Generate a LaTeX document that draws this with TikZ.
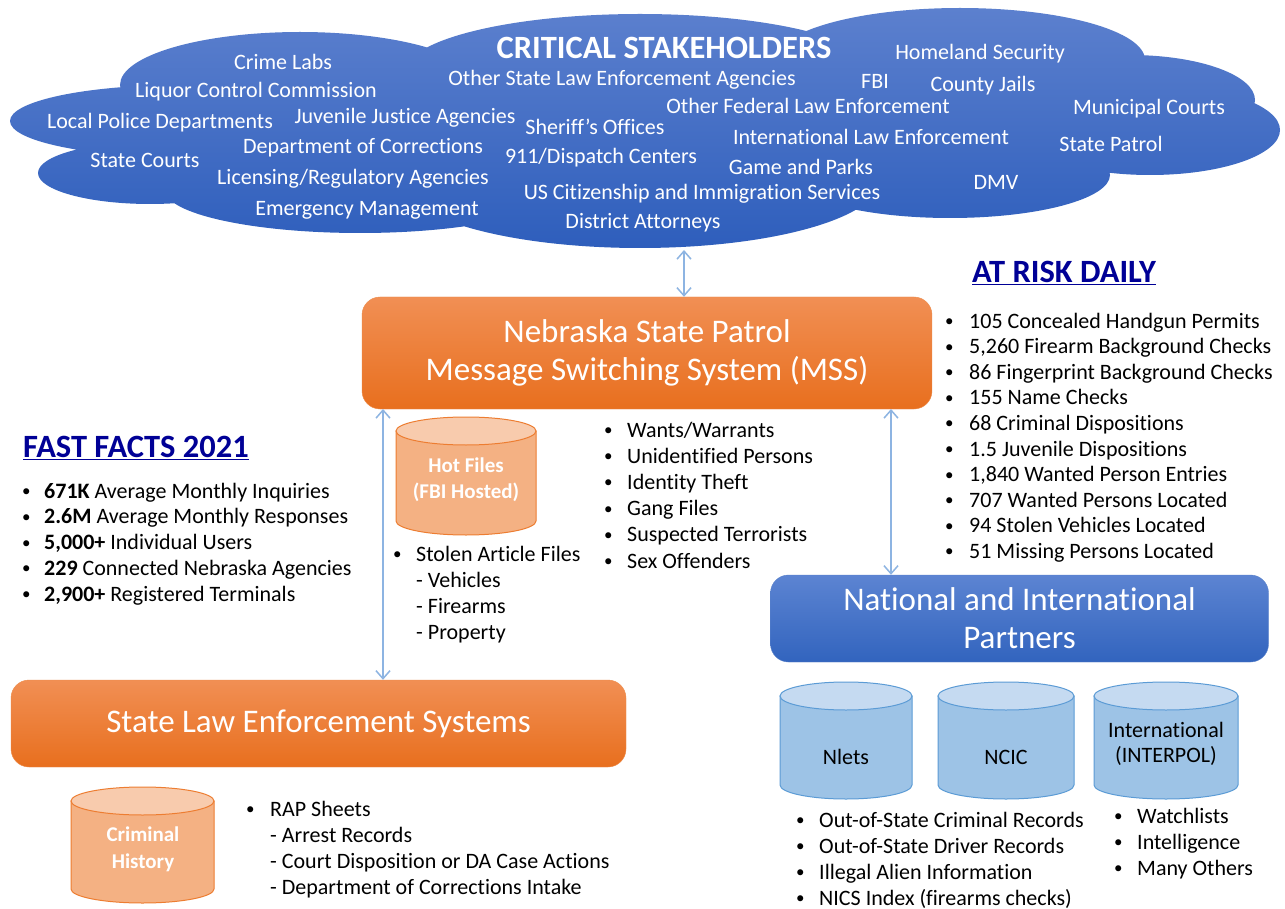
\documentclass[tikz,border=0pt]{standalone}
\usepackage{fontspec}
\setmainfont{Carlito}[Ligatures=NoCommon]
\usetikzlibrary{arrows.meta}

\definecolor{cloudtop}{RGB}{92,128,206}
\definecolor{cloudbot}{RGB}{46,94,188}
\definecolor{orangetop}{RGB}{241,143,84}
\definecolor{orangebot}{RGB}{232,111,30}
\definecolor{bluetop}{RGB}{92,132,210}
\definecolor{bluebot}{RGB}{50,100,190}
\definecolor{cylorange}{RGB}{244,177,131}
\definecolor{cylorangetop}{RGB}{248,203,173}
\definecolor{cylorangeline}{RGB}{237,125,49}
\definecolor{cylblue}{RGB}{157,195,230}
\definecolor{cylbluetop}{RGB}{197,218,241}
\definecolor{cylblueline}{RGB}{91,155,213}
\definecolor{arrowblue}{RGB}{141,180,226}
\definecolor{headblue}{RGB}{0,0,150}

% Zylinder: links, oben, rechts, unten, Farbe
\newcommand{\dbcyl}[5]{%
	\pgfmathsetmacro{\cylx}{(#1+#3)/2}
	\pgfmathsetmacro{\cylr}{(#3-#1)/2}
	\filldraw[fill=#5, draw=#5line, line width=1pt] (#1,#2+14) -- (#1,#4-14)
	arc[start angle=180, end angle=0, x radius=\cylr, y radius=14] -- (#3,#2+14) -- cycle;
	\filldraw[fill=#5top, draw=#5line, line width=1pt] (\cylx,#2+14) ellipse[x radius=\cylr, y radius=14];
}

\tikzset{
	cloudtext/.style={text=white, inner sep=0pt, text height=14pt, text depth=0pt, font=\fontsize{22}{26}\selectfont},
	sysbox/.style={rounded corners=18pt, text=white, align=center, inner sep=0pt, font=\fontsize{33}{38}\selectfont},
	orangebox/.style={sysbox, top color=orangetop, bottom color=orangebot, draw=orangebot!80!white},
	bluebox/.style={sysbox, top color=bluetop, bottom color=bluebot, draw=bluebot!80!white},
	item/.style={anchor=west, inner sep=0pt, text height=14pt, text depth=0pt, font=\fontsize{22}{26}\selectfont},
	bullet/.style={item, font=\fontsize{17}{26}\selectfont, text height=11pt},
	heading/.style={inner sep=0pt, text=headblue, font=\bfseries\fontsize{32.5}{36}\selectfont},
	cyltext/.style={align=center, inner sep=0pt, font=\fontsize{22}{26}\selectfont},
	link/.style={{Straight Barb[length=8pt,width=14pt]}-{Straight Barb[length=8pt,width=14pt]}, draw=arrowblue, line width=1.5pt}
}

\begin{document}
\begin{tikzpicture}[x=1pt, y=-1pt]
	\useasboundingbox[fill=white] (0,0) rectangle (1285,909);
	% Wolke
	\shade[top color=cloudtop, bottom color=cloudbot]
		(150,173) ellipse[x radius=112, y radius=31]
		(180,121) ellipse[x radius=170, y radius=36]
		(300,85) ellipse[x radius=180, y radius=53]
		(380,140) ellipse[x radius=180, y radius=52]
		(640,72) ellipse[x radius=235, y radius=58]
		(960,60) ellipse[x radius=185, y radius=52]
		(1130,100) ellipse[x radius=125, y radius=45]
		(1150,130) ellipse[x radius=130, y radius=45]
		(950,175) ellipse[x radius=160, y radius=43]
		(850,120) ellipse[x radius=200, y radius=60]
		(640,180) ellipse[x radius=240, y radius=68]
		(360,190) ellipse[x radius=195, y radius=43];
	\node[cloudtext, font=\bfseries\fontsize{32.5}{36}\selectfont, text height=21pt] (title) at (664,48) {CRITICAL STAKEHOLDERS};
	\node[cloudtext] (crimelabs) at (283,63) {Crime Labs};
	\node[cloudtext] (liquor) at (256,91) {Liquor Control Commission};
	\node[cloudtext] (police) at (160,122) {Local Police Departments};
	\node[cloudtext] (juvenile) at (405,117) {Juvenile Justice Agencies};
	\node[cloudtext] (statecourts) at (145,161) {State Courts};
	\node[cloudtext] (corrections) at (363,147) {Department of Corrections};
	\node[cloudtext] (licensing) at (353,178) {Licensing/Regulatory Agencies};
	\node[cloudtext] (emergency) at (367,209) {Emergency Management};
	\node[cloudtext] (otherstate) at (622,79) {Other State Law Enforcement Agencies};
	\node[cloudtext] (sheriff) at (595,128) {Sheriff’s Offices};
	\node[cloudtext] (dispatch) at (601,157) {911/Dispatch Centers};
	\node[cloudtext] (uscis) at (702,193) {US Citizenship and Immigration Services};
	\node[cloudtext] (da) at (643,222) {District Attorneys};
	\node[cloudtext] (homeland) at (980,53) {Homeland Security};
	\node[cloudtext] (fbi) at (875,82) {FBI};
	\node[cloudtext] (jails) at (983,85) {County Jails};
	\node[cloudtext] (federal) at (808,107) {Other Federal Law Enforcement};
	\node[cloudtext] (municipal) at (1149,108) {Municipal Courts};
	\node[cloudtext] (intl) at (871,138) {International Law Enforcement};
	\node[cloudtext] (patrol) at (1111,145) {State Patrol};
	\node[cloudtext] (parks) at (801,168) {Game and Parks};
	\node[cloudtext] (dmv) at (996,183) {DMV};
	% Systeme
	\node[orangebox, minimum width=570pt, minimum height=112pt] (mss) at (647,353)
		{Nebraska State Patrol\\Message Switching System (MSS)};
	\node[orangebox, minimum width=615pt, minimum height=87pt] (sles) at (318.5,723.5)
		{State Law Enforcement Systems};
	\node[bluebox, minimum width=498pt, minimum height=87pt] (partners) at (1019.5,618.5)
		{National and International\\Partners};
	% Pfeile
	\coordinate (cloudbase) at (684,250);
	\coordinate (mssleft) at (383,409);
	\coordinate (mssright) at (891,409);
	\draw[link] (cloudbase) -- (cloudbase |- mss.north);
	\draw[link] (mssleft) -- (mssleft |- sles.north);
	\draw[link] (mssright) -- (mssright |- partners.north);
	% Datenbanken
	\dbcyl{396}{417}{536}{535}{cylorange}
	\node[cyltext, text=white, font=\bfseries\fontsize{21}{26}\selectfont] (hotfiles) at (466,480) {Hot Files\\(FBI Hosted)};
	\dbcyl{71}{787}{214}{903}{cylorange}
	\node[cyltext, text=white, font=\bfseries\fontsize{21}{27}\selectfont] (crimhist) at (143,849) {Criminal\\History};
	\dbcyl{780}{682}{912}{799}{cylblue}
	\node[cyltext] (nlets) at (846,757) {Nlets};
	\dbcyl{938}{682}{1074}{799}{cylblue}
	\node[cyltext] (ncic) at (1006,757) {NCIC};
	\dbcyl{1094}{682}{1238}{799}{cylblue}
	\node[cyltext, font=\fontsize{22}{25}\selectfont] (interpol) at (1166,744) {International\\(INTERPOL)};
	% Ueberschriften
	\node[heading, anchor=west] (fastfacts) at (23,448) {\underline{FAST FACTS 2021}};
	\node[heading] (atrisk) at (1064,273) {\underline{AT RISK DAILY}};
	% Listen
	\foreach \txt [count=\i] in {{\textbf{671K} Average Monthly Inquiries}, {\textbf{2.6M} Average Monthly Responses},
		{\textbf{5,000+} Individual Users}, {\textbf{229} Connected Nebraska Agencies}, {\textbf{2,900+} Registered Terminals}}
	{
		\node[bullet] (factdot\i) at (22,{491+25.8*(\i-1)}) {•};
		\node[item] (fact\i) at (44,{491+25.8*(\i-1)}) {\txt};
	}
	\foreach \txt [count=\i] in {105 Concealed Handgun Permits, {5,260 Firearm Background Checks},
		86 Fingerprint Background Checks, 155 Name Checks, 68 Criminal Dispositions, 1.5 Juvenile Dispositions,
		{1,840 Wanted Person Entries}, 707 Wanted Persons Located, 94 Stolen Vehicles Located, 51 Missing Persons Located}
	{
		\node[bullet] (riskdot\i) at (945,{321+25.6*(\i-1)}) {•};
		\node[item] (risk\i) at (969,{321+25.6*(\i-1)}) {\txt};
	}
	\foreach \txt [count=\i] in {Wants/Warrants, Unidentified Persons, Identity Theft, Gang Files, Suspected Terrorists, Sex Offenders}
	{
		\node[bullet] (hotdot\i) at (604,{430+26.2*(\i-1)}) {•};
		\node[item] (hot\i) at (627,{430+26.2*(\i-1)}) {\txt};
	}
	\node[bullet] (stolendot) at (393,554) {•};
	\foreach \txt [count=\i] in {Stolen Article Files, - Vehicles, - Firearms, - Property}
		\node[item] (stolen\i) at (416,{554+26.3*(\i-1)}) {\txt};
	\node[bullet] (rapdot) at (246,809) {•};
	\foreach \txt [count=\i] in {RAP Sheets, - Arrest Records, - Court Disposition or DA Case Actions, - Department of Corrections Intake}
		\node[item] (rap\i) at (270,{809+26.2*(\i-1)}) {\txt};
	\foreach \txt [count=\i] in {Out-of-State Criminal Records, Out-of-State Driver Records, Illegal Alien Information, NICS Index (firearms checks)}
	{
		\node[bullet] (nletsdot\i) at (796,{820+26*(\i-1)}) {•};
		\node[item] (nletsitem\i) at (819,{820+26*(\i-1)}) {\txt};
	}
	\foreach \txt [count=\i] in {Watchlists, Intelligence, Many Others}
	{
		\node[bullet] (intldot\i) at (1114,{816+26*(\i-1)}) {•};
		\node[item] (intlitem\i) at (1137,{816+26*(\i-1)}) {\txt};
	}
\end{tikzpicture}
\end{document}
